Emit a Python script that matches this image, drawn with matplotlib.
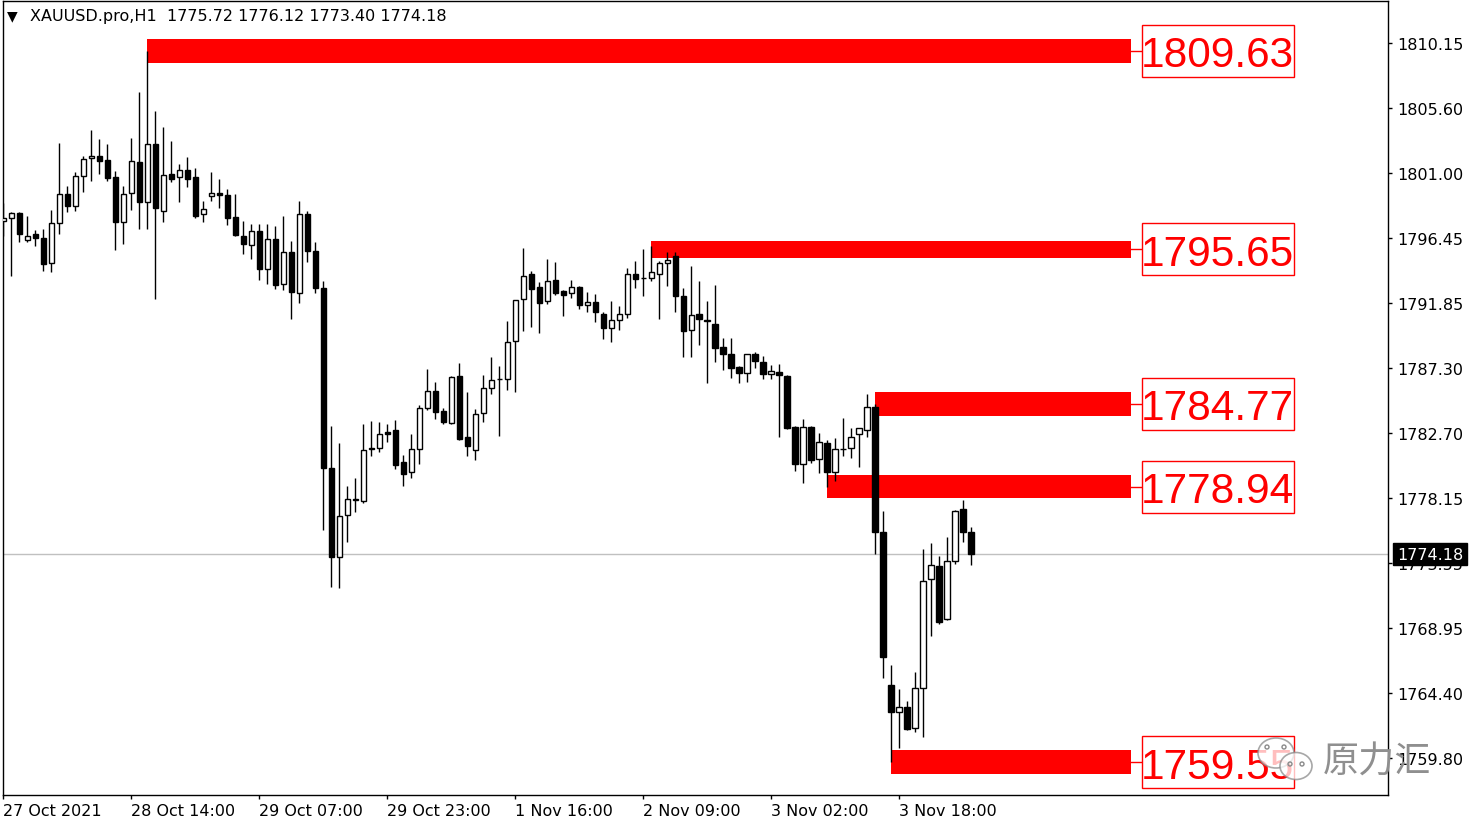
import matplotlib
matplotlib.use('Agg')
import matplotlib.pyplot as plt
import matplotlib.transforms as mtransforms
from matplotlib.patches import Rectangle, Ellipse
import numpy as np

# XAUUSD H1 bars (oldest first)
opens = [1797.65, 1797.86, 1798.21, 1796.31, 1796.73, 1796.45, 1794.69, 1797.51, 1799.55, 1798.70,
         1800.82, 1802.08, 1802.22, 1801.94, 1800.74, 1797.58, 1799.62, 1801.80, 1798.98, 1803.07,
         1798.35, 1800.96, 1800.74, 1801.24, 1800.74, 1798.14, 1799.41, 1799.62, 1799.48, 1797.93,
         1796.59, 1795.96, 1796.94, 1794.27, 1796.38, 1793.21, 1795.46, 1792.58, 1798.14, 1795.53,
         1792.93, 1780.25, 1773.98, 1776.94, 1778.00, 1777.93, 1781.66, 1781.66, 1782.79, 1782.93,
         1780.67, 1779.97, 1781.59, 1784.48, 1785.67, 1784.27, 1783.42, 1786.73, 1782.44, 1781.52,
         1784.12, 1785.89, 1786.52, 1786.52, 1789.20, 1792.15, 1793.91, 1793.00, 1792.01, 1793.49,
         1792.72, 1792.58, 1793.00, 1791.73, 1791.94, 1791.10, 1790.11, 1790.67, 1791.10, 1793.91,
         1793.63, 1793.63, 1793.91, 1794.69, 1795.18, 1792.37, 1789.97, 1791.10, 1790.67, 1790.39,
         1788.77, 1788.28, 1787.36, 1786.94, 1788.28, 1787.72, 1786.87, 1787.01, 1786.73, 1783.14,
         1780.53, 1783.14, 1780.89, 1782.01, 1779.97, 1781.59, 1781.66, 1782.65, 1782.93, 1784.55,
         1775.74, 1764.97, 1763.07, 1763.42, 1761.94, 1764.76, 1772.43, 1773.35, 1769.62, 1773.70,
         1777.37, 1775.72]
highs = [1798.91, 1798.28, 1798.28, 1798.00, 1797.01, 1797.08, 1798.42, 1803.14, 1800.11, 1801.10,
         1802.22, 1804.05, 1803.42, 1803.07, 1801.17, 1800.11, 1803.49, 1806.73, 1809.63, 1805.39,
         1804.27, 1803.28, 1801.66, 1802.15, 1801.38, 1799.05, 1801.10, 1800.60, 1799.90, 1799.55,
         1797.65, 1797.43, 1797.43, 1797.43, 1797.29, 1798.00, 1796.24, 1799.05, 1798.35, 1796.17,
         1793.42, 1783.21, 1782.01, 1778.98, 1779.55, 1783.35, 1783.56, 1783.49, 1783.35, 1783.63,
         1781.17, 1782.65, 1784.69, 1787.22, 1786.31, 1784.48, 1786.73, 1787.65, 1785.60, 1784.41,
         1786.80, 1788.07, 1787.43, 1790.60, 1792.08, 1795.74, 1794.12, 1793.35, 1794.97, 1794.76,
         1792.80, 1793.49, 1793.05, 1792.65, 1792.51, 1791.24, 1792.01, 1791.66, 1794.34, 1794.83,
         1795.67, 1795.90, 1794.83, 1795.46, 1795.46, 1792.93, 1794.48, 1793.42, 1792.01, 1793.14,
         1789.41, 1789.41, 1787.43, 1788.30, 1788.42, 1788.14, 1787.50, 1787.58, 1786.80, 1783.20,
         1783.70, 1783.20, 1782.72, 1782.22, 1782.36, 1783.77, 1783.07, 1783.10, 1785.46, 1784.77,
         1777.22, 1766.38, 1764.69, 1763.84, 1765.89, 1774.55, 1774.97, 1774.06, 1775.39, 1777.30,
         1778.00, 1776.12]
lows = [1796.59, 1793.77, 1796.17, 1796.17, 1795.89, 1794.12, 1794.05, 1796.73, 1798.28, 1798.35,
        1799.69, 1800.46, 1800.96, 1800.46, 1795.60, 1796.03, 1798.42, 1797.08, 1797.08, 1792.15,
        1797.58, 1800.39, 1798.98, 1800.04, 1797.86, 1797.58, 1799.05, 1798.56, 1797.36, 1796.59,
        1795.32, 1794.97, 1793.49, 1793.21, 1792.86, 1792.79, 1790.74, 1791.87, 1794.76, 1792.58,
        1775.89, 1771.87, 1771.80, 1775.04, 1777.15, 1777.79, 1781.10, 1781.38, 1782.08, 1780.18,
        1778.98, 1779.55, 1780.53, 1784.34, 1783.70, 1783.35, 1783.35, 1782.22, 1781.10, 1780.82,
        1783.49, 1785.46, 1782.51, 1785.74, 1785.60, 1789.90, 1790.18, 1789.76, 1791.80, 1792.44,
        1790.96, 1792.22, 1791.45, 1791.24, 1790.53, 1789.34, 1789.12, 1789.97, 1790.81, 1792.93,
        1792.37, 1793.42, 1790.74, 1793.07, 1791.24, 1788.07, 1788.07, 1788.91, 1786.24, 1787.72,
        1787.15, 1786.59, 1786.24, 1786.31, 1787.29, 1786.52, 1786.52, 1782.44, 1783.00, 1780.04,
        1779.20, 1780.60, 1779.90, 1778.94, 1779.34, 1781.10, 1780.96, 1780.32, 1782.44, 1774.20,
        1765.46, 1759.55, 1760.53, 1761.80, 1761.66, 1761.31, 1768.42, 1769.27, 1769.55, 1773.49,
        1775.04, 1773.40]
closes = [1797.86, 1798.21, 1796.73, 1796.59, 1796.45, 1794.62, 1797.51, 1799.55, 1798.70, 1800.82,
          1802.01, 1802.22, 1801.87, 1800.67, 1797.58, 1799.55, 1801.87, 1798.98, 1803.07, 1798.56,
          1800.89, 1800.60, 1801.24, 1800.60, 1798.00, 1798.49, 1799.62, 1799.48, 1797.86, 1796.66,
          1796.03, 1796.94, 1794.27, 1796.38, 1793.14, 1795.46, 1792.65, 1798.14, 1795.53, 1792.93,
          1780.25, 1773.98, 1776.87, 1778.07, 1778.05, 1781.52, 1781.59, 1782.65, 1782.65, 1780.46,
          1779.83, 1781.59, 1784.48, 1785.67, 1784.20, 1783.49, 1786.66, 1782.29, 1781.80, 1784.05,
          1785.89, 1786.45, 1786.55, 1789.12, 1792.08, 1793.77, 1792.86, 1791.87, 1793.42, 1792.58,
          1792.44, 1793.00, 1791.73, 1791.94, 1791.24, 1790.11, 1790.67, 1791.10, 1793.91, 1793.56,
          1793.60, 1794.05, 1794.69, 1794.90, 1792.37, 1789.90, 1791.03, 1790.74, 1790.62, 1788.70,
          1788.28, 1787.29, 1786.94, 1788.28, 1787.79, 1786.87, 1787.08, 1786.80, 1783.07, 1780.53,
          1783.14, 1780.82, 1782.08, 1779.97, 1781.59, 1781.62, 1782.44, 1783.07, 1784.55, 1775.74,
          1766.94, 1763.07, 1763.42, 1761.87, 1764.76, 1772.29, 1773.42, 1769.41, 1773.70, 1777.22,
          1775.72, 1774.18]

time_ticks = [0, 16, 32, 48, 64, 80, 96, 112]
time_labels = ['27 Oct 2021', '28 Oct 14:00', '29 Oct 07:00', '29 Oct 23:00',
               '1 Nov 16:00', '2 Nov 09:00', '3 Nov 02:00', '3 Nov 18:00']
price_ticks = [1810.15, 1805.60, 1801.00, 1796.45, 1791.85, 1787.30,
               1782.70, 1778.15, 1773.55, 1768.95, 1764.40, 1759.80]

# support / resistance zones: level, label, bar where the zone starts
zone_levels = [1809.63, 1795.65, 1784.77, 1778.94, 1759.55]
zone_texts = ['1809.63', '1795.65', '1784.77', '1778.94', '1759.55']
zone_start = [18, 81, 109, 103, 111]
zone_half = [0.85, 0.58, 0.85, 0.82, 0.82]

symbol = 'XAUUSD.pro,H1'
last_price = closes[-1]

W, H = 1480, 828
fig = plt.figure(figsize=(W / 100, H / 100), dpi=100)
ax = fig.add_axes([3 / W, (H - 796) / H, 1385 / W, 794 / H])

x = np.arange(len(opens))
o = np.array(opens)
c = np.array(closes)
up = c > o

# zones first, candles above them
zone_end = 140.96
for lvl, txt, st, hw in zip(zone_levels, zone_texts, zone_start, zone_half):
    ax.add_patch(Rectangle((st, lvl - hw), zone_end - st, 2 * hw,
                           facecolor='#ff0000', edgecolor='none', zorder=1))
    ax.plot([zone_end, 142.3], [lvl, lvl], color='#ff0000', lw=1, zorder=1)
    ax.add_patch(Rectangle((142.3, lvl - 1.83), 19.0, 3.66, facecolor='white',
                           edgecolor='#ff0000', lw=1, zorder=4))
    ax.text(151.8, lvl - 1.1, txt, ha='center', va='baseline', color='#ff0000',
            fontsize=30.5, family='Liberation Sans', zorder=5)

ax.axhline(last_price, color='#c0c0c0', lw=1, zorder=0.5)

ax.vlines(x, lows, highs, color='black', lw=1, zorder=2)
bottoms = np.minimum(o, c)
heights = np.abs(c - o)
ax.bar(x[up], heights[up], bottom=bottoms[up], width=0.7,
       facecolor='white', edgecolor='black', lw=1, zorder=3)
ax.bar(x[~up], heights[~up], bottom=bottoms[~up], width=0.7,
       facecolor='black', edgecolor='black', lw=1, zorder=3)

ax.set_xlim(-0.04, 173.09)
ax.set_ylim(1757.22, 1813.14)

ax.yaxis.tick_right()
ax.set_yticks(price_ticks)
ax.set_yticklabels([f'{p:.2f}' for p in price_ticks])
ax.set_xticks(time_ticks)
ax.set_xticklabels(time_labels, ha='left')
ax.tick_params(axis='both', direction='out', length=3, width=1, labelsize=11.5,
               colors='black')
ax.tick_params(axis='y', pad=4)
ax.tick_params(axis='x', pad=3)
for s in ax.spines.values():
    s.set_color('black')
    s.set_linewidth(1)

# current price tag on the price scale
tr = mtransforms.blended_transform_factory(ax.transAxes, ax.transData)
ax.text((1397 - 3) / 1385, last_price, f'{last_price:.2f}', transform=tr,
        ha='left', va='center', color='white', fontsize=11.5, zorder=6,
        clip_on=False,
        bbox=dict(boxstyle='square,pad=0.22', facecolor='black', edgecolor='black'))

# chart header
fig.text(7 / W, 1 - 16 / H, '▼', fontsize=10, va='center', ha='left')
fig.text(30 / W, 1 - 17 / H,
         f'{symbol}  {opens[-1]:.2f} {highs[-1]:.2f} {lows[-1]:.2f} {closes[-1]:.2f}',
         fontsize=11.5, va='center', ha='left')

# watermark
for cx, cy, w, h in [(1276, 754, 36, 30), (1296, 767, 32, 27)]:
    fig.add_artist(Ellipse((cx / 100, (H - cy) / 100), w / 100, h / 100,
                           transform=fig.dpi_scale_trans, facecolor='white',
                           alpha=0.75, edgecolor='#8a8a8a', lw=1.2, zorder=10))
for ex, ey in [(1267, 748), (1284, 748), (1290, 765), (1302, 765)]:
    fig.add_artist(Ellipse((ex / 100, (H - ey) / 100), 0.04, 0.04,
                           transform=fig.dpi_scale_trans, facecolor='none',
                           edgecolor='#8a8a8a', lw=1, zorder=11))
fig.text(1323 / W, 1 - 763 / H, '原力汇', fontsize=26, color='#8f8f8f',
         family=['Noto Sans CJK SC', 'DejaVu Sans'], fontweight='light',
         va='center', ha='left', zorder=12)

fig.savefig('out.png', dpi=100, facecolor='white')
